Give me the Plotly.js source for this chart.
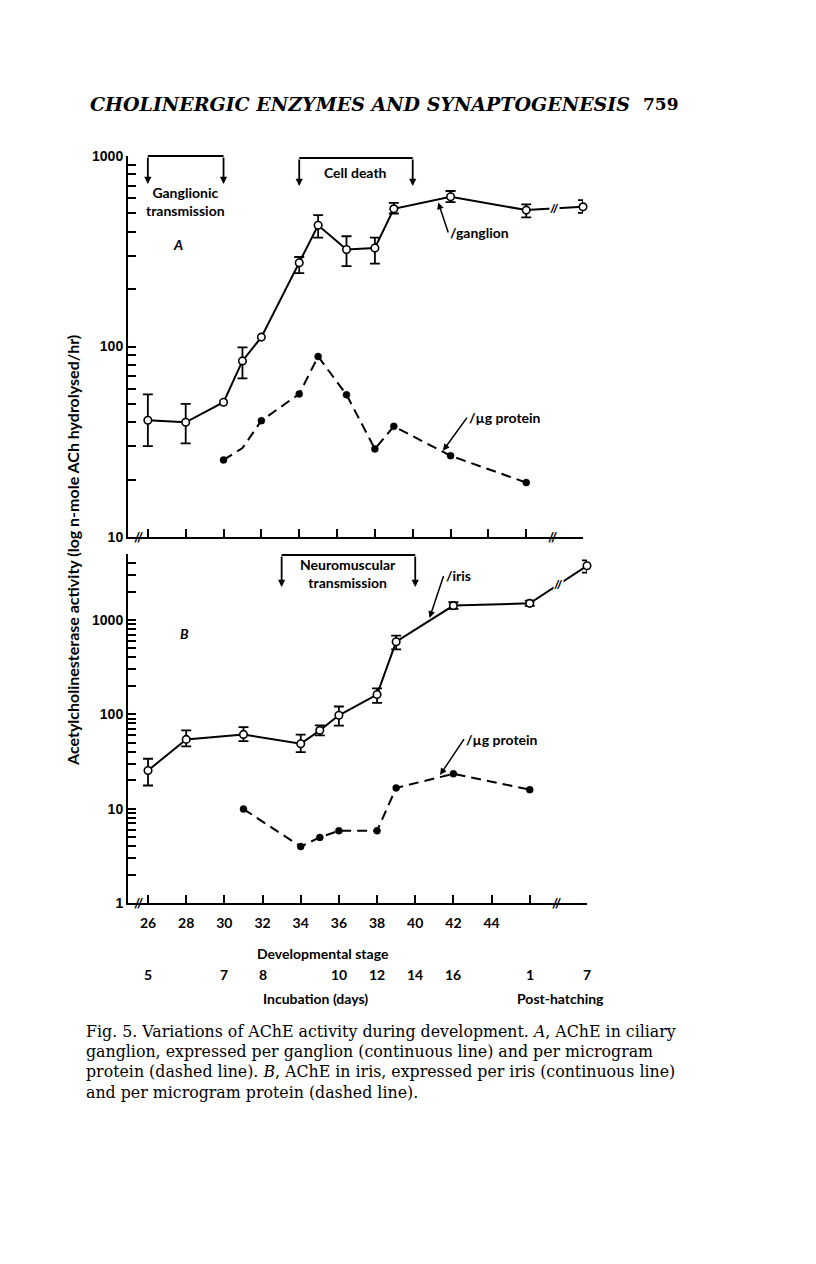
<!DOCTYPE html>
<html><head><meta charset="utf-8">
<script src="https://cdn.plot.ly/plotly-3.0.1.min.js"></script>
<style>html,body{margin:0;padding:0;background:#fff;}#chart{width:816px;height:1264px;}</style>
</head><body><div id="chart"></div>
<script>
// ---------- Panel A: ciliary ganglion ----------
const gangStage        = [26, 28, 30, 31, 32, 34, 35, 36.5, 38, 39, 42, 46, 49];
const gangPerGanglion  = [41, 40, 51, 84, 112, 275, 433, 323, 329, 528, 611, 520, 541];
const gangHigh         = [56, 50, 51, 99, 112, 295, 489, 379, 373, 568, 655, 557, 586];
const gangLow          = [30, 31, 51, 68, 112, 243, 373, 264, 272, 499, 573, 476, 503];
const gangProtStage    = [30, 31, 32, 34, 35, 36.5, 38, 39, 42, 46];
const gangPerProtein   = [25.4, 29.3, 40.8, 56.4, 88.6, 55.8, 29, 38.1, 26.7, 19.3];

// ---------- Panel B: iris ----------
const irisStage      = [26, 28, 31, 34, 35, 36, 38, 39, 42, 46, 49];
const irisPerIris    = [25.4, 54.2, 61.2, 48.7, 67.6, 97.6, 162, 588, 1420, 1500, 3750];
const irisHigh       = [33.8, 67.6, 73.3, 60.8, 76.4, 121, 188, 681, 1540, 1600, 4280];
const irisLow        = [17.6, 45.7, 52, 39.8, 59.8, 76, 132, 488, 1310, 1410, 3180];
const irisProtStage  = [31, 34, 35, 36, 38, 39, 42, 46];
const irisPerProtein = [9.9, 3.97, 4.96, 5.83, 5.83, 16.6, 23.4, 15.9];

// ---------- axis labels ----------
const stageTicks     = [26, 28, 30, 32, 34, 36, 38, 40, 42, 44, 46, 49];
const stageTickText  = ['26','28','30','32','34','36','38','40','42','44','',''];
const dayStages      = [26, 30, 32, 36, 38, 40, 42, 46, 49];
const dayLabels      = ['5','7','8','10','12','14','16','1','7'];
const decadeLabelsA  = [10, 100, 1000];
const decadeLabelsB  = [1, 10, 100, 1000];

// ---------- period brackets ----------
const periodsA = [{text:'Ganglionic<br>transmission', from:26, to:30},
                  {text:'Cell death', from:34, to:40}];
const periodsB = [{text:'Neuromuscular<br>transmission', from:33, to:40}];

const W = 816, H = 1264;
const px = v => v / W;
const py = v => 1 - v / H;

function logTicks(lo, hi){
  const vals = [];
  for (let d = lo; d < hi; d *= 10){
    for (let k = 1; k <= 9; k++){ vals.push(k*d); }
  }
  vals.push(hi);
  return vals;
}
const tickValsA = logTicks(10, 1000);
const tickValsB = logTicks(1, 1000).concat([2000, 3000, 4000, 5000]);
const tickTextA = tickValsA.map(v => decadeLabelsA.includes(v) ? String(v) : '');
const tickTextB = tickValsB.map(v => decadeLabelsB.includes(v) ? String(v) : '');

const errPlus  = (hi, v) => hi.map((h,i) => h > v[i] ? h - v[i] : NaN);
const errMinus = (lo, v) => lo.map((l,i) => l < v[i] ? v[i] - l : NaN);

const openMarker = {symbol:'circle', size:7.5, color:'#fff', opacity:1, line:{color:'#000', width:1.6}};
const errStyle = {type:'data', symmetric:false, color:'#000', thickness:1.8, width:5};

const traces = [
  {x: gangStage, y: gangPerGanglion, xaxis:'x', yaxis:'y', mode:'lines+markers', cliponaxis:false,
   line:{color:'#000', width:2}, marker:openMarker,
   error_y: Object.assign({array: errPlus(gangHigh, gangPerGanglion), arrayminus: errMinus(gangLow, gangPerGanglion)}, errStyle)},
  {x: gangProtStage, y: gangPerProtein, xaxis:'x', yaxis:'y', mode:'lines+markers', cliponaxis:false,
   line:{color:'#000', width:2, dash:'10px,6px'},
   marker:{symbol:'circle', color:'#000', opacity:1, size: gangProtStage.map(s => s === 31 ? 0 : 7), line:{color:'#000', width:0.5}}},
  {x: irisStage, y: irisPerIris, xaxis:'x2', yaxis:'y2', mode:'lines+markers', cliponaxis:false,
   line:{color:'#000', width:2}, marker:openMarker,
   error_y: Object.assign({array: errPlus(irisHigh, irisPerIris), arrayminus: errMinus(irisLow, irisPerIris)}, errStyle)},
  {x: irisProtStage, y: irisPerProtein, xaxis:'x2', yaxis:'y2', mode:'lines+markers', cliponaxis:false,
   line:{color:'#000', width:2, dash:'10px,6px'},
   marker:{symbol:'circle', color:'#000', opacity:1, size:7, line:{color:'#000', width:0.5}}}
];

const labelFont = {family:'Lato, "Open Sans", sans-serif', size:14, color:'#000', weight:700};
const tickFontY = {family:'"Liberation Sans", Arial, sans-serif', size:14, color:'#000', weight:700};

const annotations = [];
const shapes = [];

// header
annotations.push({xref:'paper', yref:'paper', x:px(88), y:py(104), xanchor:'left', yanchor:'middle', showarrow:false,
  text:'CHOLINERGIC ENZYMES AND SYNAPTOGENESIS', font:{family:'"DejaVu Serif", serif', size:19, style:'italic', weight:700, color:'#000'}});
annotations.push({xref:'paper', yref:'paper', x:px(681), y:py(104), xanchor:'right', yanchor:'middle', showarrow:false,
  text:'759', font:{family:'"DejaVu Serif", serif', size:17, weight:700, color:'#000'}});

// brackets
function addBrackets(periods, xref, yTop, yTip, textY){
  periods.forEach(p => {
    shapes.push({type:'line', xref:xref, yref:'paper', x0:p.from, x1:p.to, y0:py(yTop), y1:py(yTop), line:{color:'#000', width:1.8}});
    [p.from, p.to].forEach(xv => {
      annotations.push({xref:xref, yref:'paper', x:xv, y:py(yTip), ax:0, ay:-(yTip - yTop), axref:'pixel', ayref:'pixel',
        showarrow:true, arrowhead:2, arrowsize:0.8, arrowwidth:1.8, arrowcolor:'#000', text:''});
    });
    annotations.push({xref:xref, yref:'paper', x:(p.from + p.to)/2, y:py(textY), showarrow:false, text:p.text,
      font:labelFont, xanchor:'center', yanchor:'middle'});
  });
}
addBrackets([periodsA[0]], 'x', 156, 184, 202);
addBrackets([periodsA[1]], 'x', 158, 186, 173);
addBrackets(periodsB, 'x2', 555, 587, 573);

// panel letters
annotations.push({xref:'paper', yref:'paper', x:px(178), y:py(244), xanchor:'center', yanchor:'middle', showarrow:false, text:'A',
  font:{family:'Lato, sans-serif', size:14, weight:700, style:'italic', color:'#000'}});
annotations.push({xref:'paper', yref:'paper', x:px(184), y:py(633), xanchor:'center', yanchor:'middle', showarrow:false, text:'B',
  font:{family:'Lato, sans-serif', size:14, weight:700, style:'italic', color:'#000'}});

// series labels with arrows
const arrowLabels = [
  {text:'/ganglion',  xref:'x',  yref:'y',  x:41.35, y:570,  ax:10, ay:30},
  {text:'/µg protein',xref:'x',  yref:'y',  x:41.6,  y:28.4, ax:24, ay:-33},
  {text:'/iris',      xref:'x2', yref:'y2', x:40.75, y:1050, ax:14, ay:-42},
  {text:'/µg protein',xref:'x2', yref:'y2', x:41.3,  y:22.7, ax:24, ay:-36}
];
arrowLabels.forEach(a => {
  annotations.push({xref:a.xref, yref:a.yref, x:a.x, y:Math.log10(a.y), ax:a.ax, ay:a.ay, axref:'pixel', ayref:'pixel',
    text:a.text, xanchor:'left', yanchor:'middle', showarrow:true, arrowhead:2, arrowsize:0.9, arrowwidth:1.5, arrowcolor:'#000',
    standoff:0, startstandoff:0, font:labelFont});
});

// axis-break marks
[['x', py(537)], ['x2', py(903)]].forEach(([xr, yy]) => {
  annotations.push({xref:xr, yref:'paper', x:25.5, y:yy, xanchor:'center', yanchor:'middle', showarrow:false, text:'//', font:{family:'Lato', size:13, weight:900, color:'#000'}});
  annotations.push({xref:xr, yref:'paper', x:47.4, y:yy, xanchor:'center', yanchor:'middle', showarrow:false, text:'//', font:{family:'Lato', size:13, weight:900, color:'#000'}});
});
// breaks on continuous lines between post-hatching days
const nG = gangStage.length, nI = irisStage.length;
annotations.push({xref:'x', yref:'y', x:(gangStage[nG-2]+gangStage[nG-1])/2,
  y:(Math.log10(gangPerGanglion[nG-2])+Math.log10(gangPerGanglion[nG-1]))/2, showarrow:false, text:'//',
  xanchor:'center', yanchor:'middle', bgcolor:'#fff', borderpad:0, font:{family:'Lato', size:12, weight:900, color:'#000'}});
annotations.push({xref:'x2', yref:'y2', x:(irisStage[nI-2]+irisStage[nI-1])/2,
  y:(Math.log10(irisPerIris[nI-2])+Math.log10(irisPerIris[nI-1]))/2, showarrow:false, text:'//',
  xanchor:'center', yanchor:'middle', bgcolor:'#fff', borderpad:0, font:{family:'Lato', size:12, weight:900, color:'#000'}});

// incubation day labels
dayStages.forEach((s,i) => {
  annotations.push({xref:'x2', yref:'paper', x:s, y:py(974), xanchor:'center', yanchor:'middle', showarrow:false, text:dayLabels[i], font:labelFont});
});
annotations.push({xref:'paper', yref:'paper', x:px(323), y:py(953), xanchor:'center', yanchor:'middle', showarrow:false, text:'Developmental stage', font:labelFont});
annotations.push({xref:'paper', yref:'paper', x:px(315), y:py(998), xanchor:'center', yanchor:'middle', showarrow:false, text:'Incubation (days)', font:labelFont});
annotations.push({xref:'paper', yref:'paper', x:px(560), y:py(998), xanchor:'center', yanchor:'middle', showarrow:false, text:'Post-hatching', font:labelFont});

// shared y title
annotations.push({xref:'paper', yref:'paper', x:px(72), y:py(551), xanchor:'center', yanchor:'middle', showarrow:false, textangle:-90,
  text:'Acetylcholinesterase activity (log n-mole ACh hydrolysed/hr)', font:{family:'Lato, sans-serif', size:16, weight:700, color:'#000'}});

// caption
const captionLines = [
  'Fig. 5. Variations of AChE activity during development. <i>A</i>, AChE in ciliary',
  'ganglion, expressed per ganglion (continuous line) and per microgram',
  'protein (dashed line). <i>B</i>, AChE in iris, expressed per iris (continuous line)',
  'and per microgram protein (dashed line).'
];
captionLines.forEach((t,i) => {
  annotations.push({xref:'paper', yref:'paper', x:px(84), y:py(1031 + i*20.4), xanchor:'left', yanchor:'middle',
    showarrow:false, text:t, font:{family:'"DejaVu Serif", serif', size:15.8, color:'#000'}});
});

const xCommon = {range:[24.95, 49.0], showline:true, linecolor:'#000', linewidth:2, ticks:'inside', ticklen:8,
  tickwidth:2, tickcolor:'#000', tickmode:'array', tickvals:stageTicks, showgrid:false, zeroline:false, fixedrange:true};
const yCommon = {type:'log', showline:true, linecolor:'#000', linewidth:2, ticks:'inside', ticklen:8, tickwidth:2,
  tickcolor:'#000', tickmode:'array', showgrid:false, zeroline:false, tickfont:tickFontY};

const layout = {
  width:W, height:H, margin:{l:0, r:0, t:0, b:0}, paper_bgcolor:'#fff', plot_bgcolor:'rgba(0,0,0,0)',
  showlegend:false,
  xaxis: Object.assign({}, xCommon, {domain:[px(128), px(583)], anchor:'y', showticklabels:false}),
  yaxis: Object.assign({}, yCommon, {domain:[py(537), py(156)], anchor:'x', range:[1, 3], tickvals:tickValsA, ticktext:tickTextA}),
  xaxis2: Object.assign({}, xCommon, {domain:[px(128), px(587)], anchor:'y2', showticklabels:true, ticktext:stageTickText,
    tickfont:labelFont, ticklabelstandoff:6}),
  yaxis2: Object.assign({}, yCommon, {domain:[py(903), py(554)], anchor:'x2', range:[0, Math.log10(5000)], tickvals:tickValsB, ticktext:tickTextB}),
  annotations: annotations,
  shapes: shapes
};

Plotly.newPlot('chart', traces, layout, {staticPlot:true, displayModeBar:false});
</script>
</body></html>
